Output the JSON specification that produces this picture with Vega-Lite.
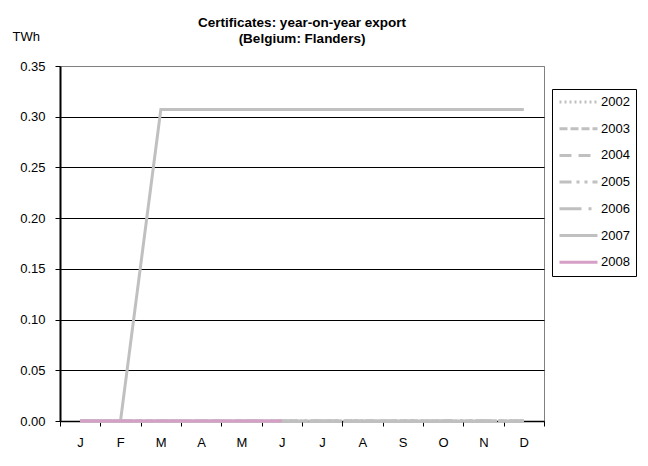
{
  "$schema": "https://vega.github.io/schema/vega-lite/v6.json",
  "width": 484,
  "height": 355,
  "autosize": {"type": "none"},
  "padding": {"left": 60, "top": 66, "right": 104, "bottom": 45},
  "background": "white",
  "config": {
    "font": "Liberation Sans",
    "view": {"stroke": "#808080", "strokeWidth": 1}
  },
  "title": {
    "text": ["Certificates: year-on-year export", "(Belgium: Flanders)"],
    "font": "Liberation Sans",
    "fontSize": 13.5,
    "fontWeight": "bold",
    "color": "black",
    "anchor": "middle",
    "frame": "group",
    "lineHeight": 16,
    "offset": -15
  },
  "data": {
    "values": [
      {"year": "2002", "month": 1, "twh": 0}, {"year": "2002", "month": 2, "twh": 0}, {"year": "2002", "month": 3, "twh": 0}, {"year": "2002", "month": 4, "twh": 0}, {"year": "2002", "month": 5, "twh": 0}, {"year": "2002", "month": 6, "twh": 0}, {"year": "2002", "month": 7, "twh": 0}, {"year": "2002", "month": 8, "twh": 0}, {"year": "2002", "month": 9, "twh": 0}, {"year": "2002", "month": 10, "twh": 0}, {"year": "2002", "month": 11, "twh": 0}, {"year": "2002", "month": 12, "twh": 0},
      {"year": "2003", "month": 1, "twh": 0}, {"year": "2003", "month": 2, "twh": 0}, {"year": "2003", "month": 3, "twh": 0}, {"year": "2003", "month": 4, "twh": 0}, {"year": "2003", "month": 5, "twh": 0}, {"year": "2003", "month": 6, "twh": 0}, {"year": "2003", "month": 7, "twh": 0}, {"year": "2003", "month": 8, "twh": 0}, {"year": "2003", "month": 9, "twh": 0}, {"year": "2003", "month": 10, "twh": 0}, {"year": "2003", "month": 11, "twh": 0}, {"year": "2003", "month": 12, "twh": 0},
      {"year": "2004", "month": 1, "twh": 0}, {"year": "2004", "month": 2, "twh": 0}, {"year": "2004", "month": 3, "twh": 0}, {"year": "2004", "month": 4, "twh": 0}, {"year": "2004", "month": 5, "twh": 0}, {"year": "2004", "month": 6, "twh": 0}, {"year": "2004", "month": 7, "twh": 0}, {"year": "2004", "month": 8, "twh": 0}, {"year": "2004", "month": 9, "twh": 0}, {"year": "2004", "month": 10, "twh": 0}, {"year": "2004", "month": 11, "twh": 0}, {"year": "2004", "month": 12, "twh": 0},
      {"year": "2005", "month": 1, "twh": 0}, {"year": "2005", "month": 2, "twh": 0}, {"year": "2005", "month": 3, "twh": 0}, {"year": "2005", "month": 4, "twh": 0}, {"year": "2005", "month": 5, "twh": 0}, {"year": "2005", "month": 6, "twh": 0}, {"year": "2005", "month": 7, "twh": 0}, {"year": "2005", "month": 8, "twh": 0}, {"year": "2005", "month": 9, "twh": 0}, {"year": "2005", "month": 10, "twh": 0}, {"year": "2005", "month": 11, "twh": 0}, {"year": "2005", "month": 12, "twh": 0},
      {"year": "2006", "month": 1, "twh": 0}, {"year": "2006", "month": 2, "twh": 0}, {"year": "2006", "month": 3, "twh": 0}, {"year": "2006", "month": 4, "twh": 0}, {"year": "2006", "month": 5, "twh": 0}, {"year": "2006", "month": 6, "twh": 0}, {"year": "2006", "month": 7, "twh": 0}, {"year": "2006", "month": 8, "twh": 0}, {"year": "2006", "month": 9, "twh": 0}, {"year": "2006", "month": 10, "twh": 0}, {"year": "2006", "month": 11, "twh": 0}, {"year": "2006", "month": 12, "twh": 0},
      {"year": "2007", "month": 1, "twh": 0}, {"year": "2007", "month": 2, "twh": 0}, {"year": "2007", "month": 3, "twh": 0.307}, {"year": "2007", "month": 4, "twh": 0.307}, {"year": "2007", "month": 5, "twh": 0.307}, {"year": "2007", "month": 6, "twh": 0.307}, {"year": "2007", "month": 7, "twh": 0.307}, {"year": "2007", "month": 8, "twh": 0.307}, {"year": "2007", "month": 9, "twh": 0.307}, {"year": "2007", "month": 10, "twh": 0.307}, {"year": "2007", "month": 11, "twh": 0.307}, {"year": "2007", "month": 12, "twh": 0.307},
      {"year": "2008", "month": 1, "twh": 0}, {"year": "2008", "month": 2, "twh": 0}, {"year": "2008", "month": 3, "twh": 0}, {"year": "2008", "month": 4, "twh": 0}, {"year": "2008", "month": 5, "twh": 0}, {"year": "2008", "month": 6, "twh": 0}
    ]
  },
  "mark": {"type": "line", "strokeWidth": 3, "clip": false},
  "encoding": {
    "x": {
      "field": "month",
      "type": "quantitative",
      "scale": {"domain": [0.5, 12.5], "nice": false, "zero": false},
      "axis": {
        "title": null,
        "values": [0.5, 1.5, 2.5, 3.5, 4.5, 5.5, 6.5, 7.5, 8.5, 9.5, 10.5, 11.5, 12.5],
        "labelExpr": "datum.value > 12 ? '' : ['J','F','M','A','M','J','J','A','S','O','N','D'][floor(datum.value)]",
        "labelOffset": 20,
        "labelFlush": false,
        "labelOverlap": false,
        "labelFont": "Liberation Sans",
        "labelFontSize": 13,
        "labelColor": "black",
        "labelPadding": 10,
        "grid": false,
        "domainColor": "black",
        "domainWidth": 1.5,
        "tickColor": "black",
        "tickSize": 5
      }
    },
    "y": {
      "field": "twh",
      "type": "quantitative",
      "scale": {"domain": [0, 0.35], "nice": false},
      "axis": {
        "title": "TWh",
        "titleAngle": 0,
        "titleX": -48,
        "titleY": -30,
        "titleAlign": "left",
        "titleBaseline": "middle",
        "titleFont": "Liberation Sans",
        "titleFontSize": 13,
        "titleFontWeight": "normal",
        "titleColor": "black",
        "values": [0, 0.05, 0.1, 0.15, 0.2, 0.25, 0.3, 0.35],
        "format": ".2f",
        "labelFont": "Liberation Sans",
        "labelFontSize": 13,
        "labelColor": "black",
        "labelPadding": 10,
        "grid": true,
        "gridColor": {"condition": {"test": "datum.value >= 0.35", "value": "#808080"}, "value": "black"},
        "gridWidth": 1,
        "gridOpacity": 1,
        "domainColor": "black",
        "domainWidth": 2,
        "tickColor": "black",
        "tickSize": 5
      }
    },
    "color": {
      "field": "year",
      "type": "nominal",
      "scale": {
        "domain": ["2002", "2003", "2004", "2005", "2006", "2007", "2008"],
        "range": ["#c0c0c0", "#c0c0c0", "#c0c0c0", "#c0c0c0", "#c0c0c0", "#c0c0c0", "#d69fc6"]
      },
      "legend": {
        "title": null,
        "orient": "none",
        "legendX": 492,
        "legendY": 23,
        "symbolType": "stroke",
        "symbolSize": 1444,
        "symbolStrokeWidth": 3,
        "clipHeight": 14,
        "labelFont": "Liberation Sans",
        "labelFontSize": 13,
        "labelColor": "black",
        "labelOffset": 2,
        "rowPadding": 12.7,
        "strokeColor": "black",
        "padding": 6
      }
    },
    "strokeDash": {
      "field": "year",
      "type": "nominal",
      "scale": {
        "domain": ["2002", "2003", "2004", "2005", "2006", "2007", "2008"],
        "range": [[2, 3], [8, 3], [12, 7], [12, 5, 3, 5, 3, 5], [22, 7, 3, 7], [1, 0], [1, 0]]
      },
      "legend": null
    }
  }
}
